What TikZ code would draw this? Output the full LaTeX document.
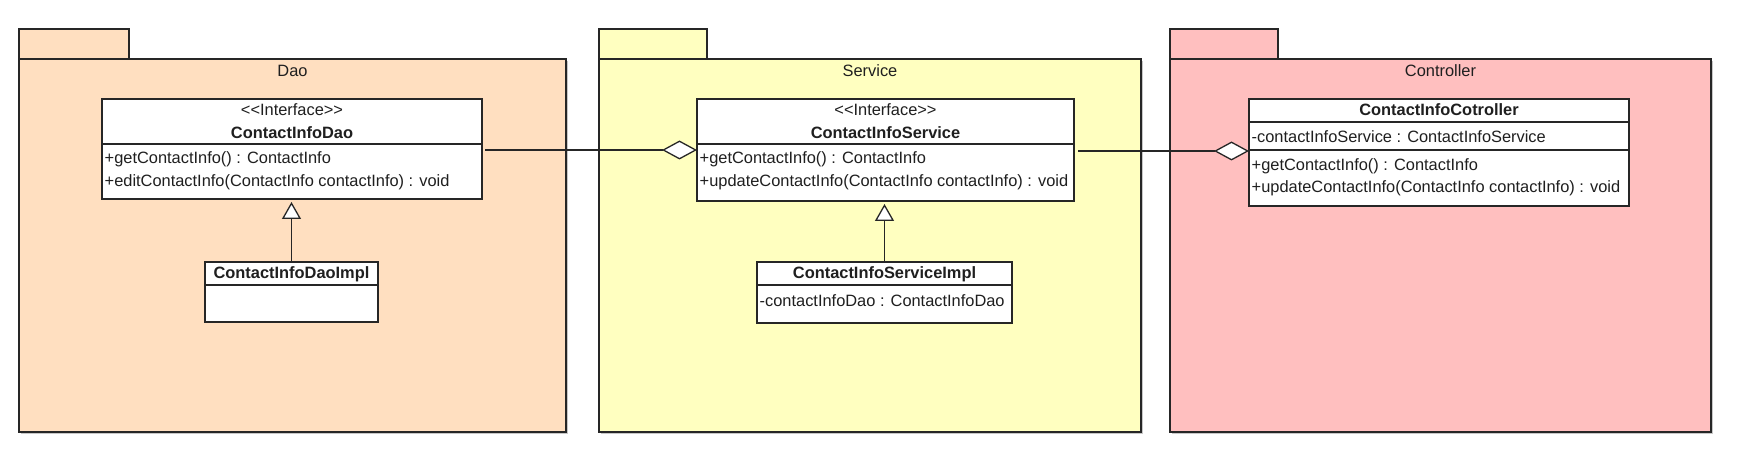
\documentclass[tikz,border=0pt]{standalone}
\usepackage{fontspec}
\setmainfont{Liberation Sans}[Ligatures=TeXOff]
\usetikzlibrary{arrows.meta}
\definecolor{daofill}{HTML}{FFDFC0}
\definecolor{svcfill}{HTML}{FFFFC0}
\definecolor{ctlfill}{HTML}{FFBFBF}
\definecolor{linec}{HTML}{262626}
\begin{document}
\begin{tikzpicture}[x=1pt,y=-1pt,
  box/.style={draw=linec, line width=1.3pt, rectangle, inner sep=0pt, outer sep=0pt, anchor=north west},
  cls/.style={box, fill=white},
  shadow/.style={fill=black!22, draw=none},
  sep/.style={draw=linec, line width=1.3pt},
  txt/.style={font=\fontsize{16.4}{19}\selectfont, inner sep=0pt, anchor=west, text=black!88},
  ctxt/.style={txt, anchor=center},
  btxt/.style={ctxt, font=\fontsize{16.4}{19}\selectfont\bfseries},
  agg/.style={draw=linec, line width=1.3pt, -{Diamond[open, fill=white, length=35pt, width=19pt, line width=1.3pt]}},
  gen/.style={draw=linec, line width=1.3pt, shorten >=3pt, -{Triangle[open, fill=white, length=17pt, width=19pt, line width=1.3pt]}}
]
\fill[white] (0,0) rectangle (1737,454);
\useasboundingbox (0,0) rectangle (1737,454);
\coordinate (yA) at (0,150);
\coordinate (yB) at (0,151);
\coordinate (yDiv) at (0,144);
\coordinate (yImpl) at (0,285);
\coordinate (yC1) at (0,122);
\coordinate (yC2) at (0,150);

% package shadows
\fill[shadow] (21,434) rectangle (568,61);
\fill[shadow] (601,434) rectangle (1143,61);
\fill[shadow] (1172,434) rectangle (1713,61);

% packages
\node[box, fill=daofill, minimum width=110pt, minimum height=30pt] (daotab) at (19,29) {};
\node[box, fill=daofill, minimum width=547pt, minimum height=373pt] (daopkg) at (19,59) {};
\node[ctxt] (daolbl) at (292.5,71) {Dao};

\node[box, fill=svcfill, minimum width=108pt, minimum height=30pt] (svctab) at (599,29) {};
\node[box, fill=svcfill, minimum width=542pt, minimum height=373pt] (svcpkg) at (599,59) {};
\node[ctxt] (svclbl) at (870,71) {Service};

\node[box, fill=ctlfill, minimum width=108pt, minimum height=30pt] (ctltab) at (1170,29) {};
\node[box, fill=ctlfill, minimum width=541pt, minimum height=373pt] (ctlpkg) at (1170,59) {};
\node[ctxt] (ctllbl) at (1440.5,71) {Controller};

% ContactInfoDao
\node[cls, minimum width=380pt, minimum height=100pt] (dao) at (102,99) {};
\draw[sep] (dao.west |- yDiv) -- (dao.east |- yDiv);
\node[ctxt] (daost) at (292,110) {<<Interface>>};
\node[btxt] (daonm) at (292,133) {ContactInfoDao};
\node[txt] (daom1) at (104.5,159) {+getContactInfo() : ContactInfo};
\node[txt] (daom2) at (104.5,182) {+editContactInfo(ContactInfo contactInfo) : void};

% ContactInfoDaoImpl
\node[cls, minimum width=173pt, minimum height=60pt] (daoimpl) at (205,262) {};
\draw[sep] (daoimpl.west |- yImpl) -- (daoimpl.east |- yImpl);
\node[btxt] (daoimplnm) at (291.5,274) {ContactInfoDaoImpl};

% ContactInfoService
\node[cls, minimum width=377pt, minimum height=102pt] (svc) at (697,99) {};
\draw[sep] (svc.west |- yDiv) -- (svc.east |- yDiv);
\node[ctxt] (svcst) at (885.5,110) {<<Interface>>};
\node[btxt] (svcnm) at (885.5,133) {ContactInfoService};
\node[txt] (svcm1) at (699.5,159) {+getContactInfo() : ContactInfo};
\node[txt] (svcm2) at (699.5,182) {+updateContactInfo(ContactInfo contactInfo) : void};

% ContactInfoServiceImpl
\node[cls, minimum width=255pt, minimum height=61pt] (svcimpl) at (757,262) {};
\draw[sep] (svcimpl.west |- yImpl) -- (svcimpl.east |- yImpl);
\node[btxt] (svcimplnm) at (884.5,274) {ContactInfoServiceImpl};
\node[txt] (svcimpla) at (759.5,301) {-contactInfoDao : ContactInfoDao};

% ContactInfoCotroller
\node[cls, minimum width=380pt, minimum height=107pt] (ctl) at (1249,99) {};
\draw[sep] (ctl.west |- yC1) -- (ctl.east |- yC1);
\draw[sep] (ctl.west |- yC2) -- (ctl.east |- yC2);
\node[btxt] (ctlnm) at (1439,110) {ContactInfoCotroller};
\node[txt] (ctla) at (1251.5,137) {-contactInfoService : ContactInfoService};
\node[txt] (ctlm1) at (1251.5,166) {+getContactInfo() : ContactInfo};
\node[txt] (ctlm2) at (1251.5,188) {+updateContactInfo(ContactInfo contactInfo) : void};

% connectors
\draw[agg] ([xshift=3pt]dao.east |- yA) -- (svc.west |- yA);
\draw[agg] ([xshift=4pt]svc.east |- yB) -- (ctl.west |- yB);
\draw[gen] (daoimpl.north) -- (daoimpl.north |- dao.south);
\draw[gen] (svcimpl.north) -- (svcimpl.north |- svc.south);
\end{tikzpicture}
\end{document}
